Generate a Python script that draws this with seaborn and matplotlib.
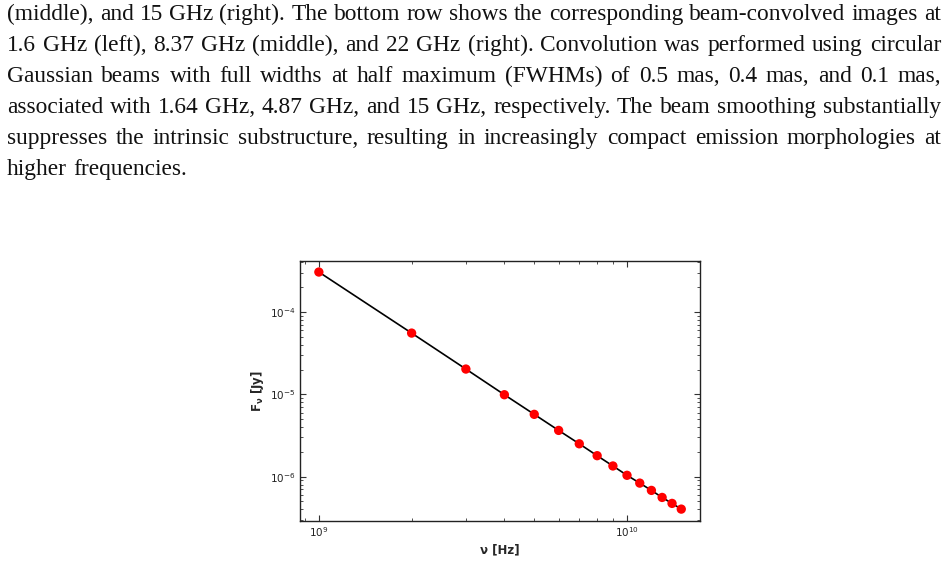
import numpy as np
import pandas as pd
import matplotlib
matplotlib.use('Agg')
import matplotlib.pyplot as plt
import seaborn as sns

# data
freq_ghz = [1, 2, 3, 4, 5, 6, 7, 8, 9, 10, 11, 12, 13, 14, 15]
flux_jy = [3.06e-4, 5.55e-5, 2.03e-5, 9.9e-6, 5.72e-6, 3.65e-6, 2.51e-6, 1.80e-6,
           1.35e-6, 1.04e-6, 8.36e-7, 6.82e-7, 5.60e-7, 4.74e-7, 4.04e-7]

caption_lines = [
    "(middle), and 15 GHz (right). The bottom row shows the corresponding beam-convolved images at",
    "1.6 GHz (left), 8.37 GHz (middle), and 22 GHz (right). Convolution was performed using circular",
    "Gaussian beams with full widths at half maximum (FWHMs) of 0.5 mas, 0.4 mas, and 0.1 mas,",
    "associated with 1.64 GHz, 4.87 GHz, and 15 GHz, respectively. The beam smoothing substantially",
    "suppresses the intrinsic substructure, resulting in increasingly compact emission morphologies at",
    "higher frequencies.",
]

df = pd.DataFrame({'nu': np.array(freq_ghz) * 1e9, 'flux': flux_jy})

sns.set_style('ticks')
plt.rcParams['font.family'] = ['DejaVu Sans']

W, H = 949, 561
fig = plt.figure(figsize=(W / 100, H / 100), dpi=100)
ax = fig.add_axes([0.3166, 0.0718, 0.4205, 0.4630])

sns.lineplot(data=df, x='nu', y='flux', color='black', lw=1.2, ax=ax, zorder=2)
sns.scatterplot(data=df, x='nu', y='flux', color='red', s=45, edgecolor='none', ax=ax, zorder=3)

ax.set_xscale('log')
ax.set_yscale('log')
ax.set_xlim(8.715e8, 1.719e10)
ax.set_ylim(2.92e-7, 4.17e-4)

ax.tick_params(which='both', direction='in', top=True, right=True,
               labelsize=7.5, labelcolor='#222222', color='#333333')
ax.tick_params(which='major', length=4, width=0.8)
ax.tick_params(which='minor', length=2, width=0.6)
for s in ax.spines.values():
    s.set_color('#222222')
    s.set_linewidth(1.0)

ax.set_xlabel('ν [Hz]', fontsize=8.5, fontweight='bold', labelpad=3)
ax.set_ylabel(r'F$_{\mathbf{\nu}}$ [Jy]', fontsize=8.5, fontweight='bold', labelpad=3)

# justified caption text above the chart
r = fig.canvas.get_renderer()
x0, x1 = 7, 941
for i, line in enumerate(caption_lines):
    y = H - (20 + 31 * i)
    words = line.split(' ')
    txts = [fig.text(0, y / H, w, fontsize=16.8, family='Liberation Serif',
                     color='#111111', va='baseline', ha='left') for w in words]
    widths = [t.get_window_extent(r).width for t in txts]
    last = i == len(caption_lines) - 1
    if last or len(words) == 1:
        gap = txts[0].get_fontsize() * 0.25 * 100 / 72
    else:
        gap = (x1 - x0 - sum(widths)) / (len(words) - 1)
    x = x0
    for t, w in zip(txts, widths):
        t.set_x(x / W)
        x += w + gap

fig.savefig('out.png', dpi=100)
